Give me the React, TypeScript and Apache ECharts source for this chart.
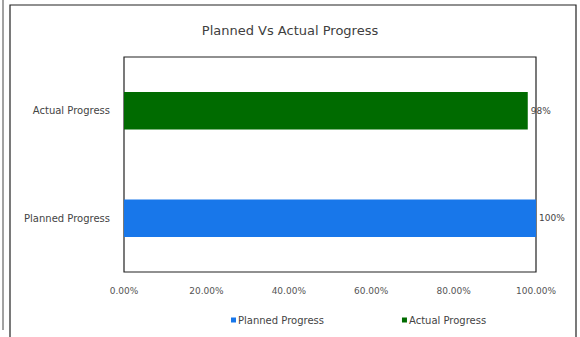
import React, { useEffect, useRef } from "react";
import * as echarts from "echarts";

const titleText = "Planned Vs Actual Progress";
const categories = ["Planned Progress", "Actual Progress"];
const seriesNames = ["Planned Progress", "Actual Progress"];
const plannedValues = [1.0, "-"];
const actualValues = ["-", 0.98];
const valueLabels = ["100%", "98%"];
const xTicks = [0, 0.2, 0.4, 0.6, 0.8, 1.0];
const colors = ["#1877ea", "#006b00"];

const FONT = "'DejaVu Sans', sans-serif";

export default function App() {
  const ref = useRef<HTMLDivElement>(null);
  useEffect(() => {
    document.body.style.margin = "0";
    const chart = echarts.init(ref.current!, undefined, { renderer: "svg" });
    chart.setOption({
      animation: false,
      backgroundColor: "#ffffff",
      textStyle: { fontFamily: FONT },
      title: {
        text: titleText,
        left: "center",
        top: 19,
        textStyle: { fontSize: 13, fontWeight: "normal", color: "#404040", fontFamily: FONT },
      },
      graphic: [
        {
          type: "rect",
          shape: { x: 10, y: 5, width: 566, height: 340 },
          style: { fill: "none", stroke: "#222", lineWidth: 1.2 },
          silent: true,
        },
        {
          type: "line",
          shape: { x1: 3, y1: 0, x2: 3, y2: 330 },
          style: { stroke: "#444", lineWidth: 1 },
          silent: true,
        },
      ],
      legend: {
        left: 226,
        top: 310,
        itemWidth: 5,
        itemHeight: 5,
        itemGap: 78,
        icon: "rect",
        data: seriesNames,
        textStyle: { fontSize: 10, color: "#444", fontFamily: FONT, padding: [0, 0, 0, -3] },
      },
      grid: {
        left: 124,
        right: 44,
        top: 57,
        bottom: 65,
        show: true,
        borderColor: "#222",
        borderWidth: 1.2,
        containLabel: false,
      },
      xAxis: {
        type: "value",
        min: xTicks[0],
        max: xTicks[xTicks.length - 1],
        interval: 0.2,
        axisLine: { show: false },
        axisTick: { show: false },
        splitLine: { show: false },
        axisLabel: {
          margin: 14,
          fontSize: 9,
          color: "#555",
          fontFamily: FONT,
          formatter: (v: number) => (v * 100).toFixed(2) + "%",
        },
      },
      yAxis: {
        type: "category",
        data: categories,
        axisLine: { show: false },
        axisTick: { show: false },
        splitLine: { show: false },
        axisLabel: { margin: 14, fontSize: 10, color: "#444", fontFamily: FONT },
      },
      series: [
        {
          name: seriesNames[0],
          type: "bar",
          stack: "s",
          barWidth: "35%",
          data: plannedValues,
          itemStyle: { color: colors[0] },
          label: {
            show: true,
            position: "right",
            distance: 3,
            fontSize: 9,
            color: "#444",
            fontFamily: FONT,
            formatter: () => valueLabels[0],
          },
        },
        {
          name: seriesNames[1],
          type: "bar",
          stack: "s",
          barWidth: "35%",
          data: actualValues,
          itemStyle: { color: colors[1] },
          label: {
            show: true,
            position: "right",
            distance: 3,
            fontSize: 9,
            color: "#444",
            fontFamily: FONT,
            formatter: () => valueLabels[1],
          },
        },
      ],
    });
    return () => chart.dispose();
  }, []);
  return <div ref={ref} style={{ width: 580, height: 337 }} />;
}
